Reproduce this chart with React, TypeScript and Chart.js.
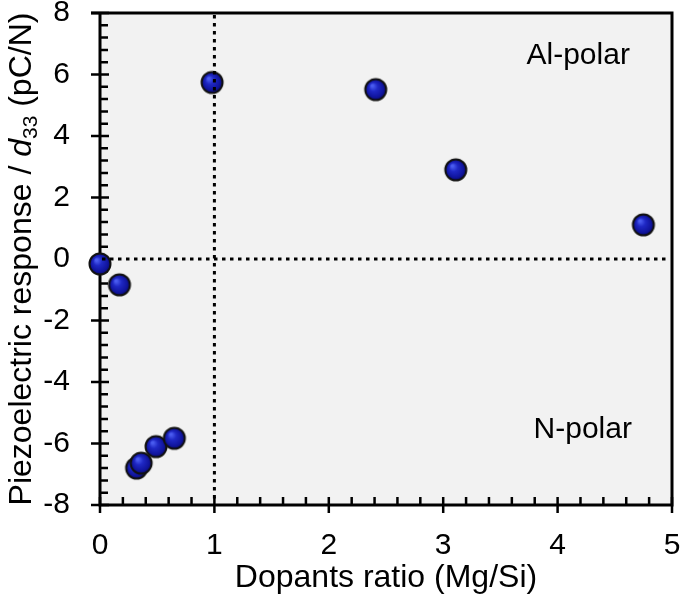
import React, { useEffect, useRef } from "react";
import { Chart, registerables } from "chart.js";

Chart.register(...registerables);

// ---- Data ----
const dopantRatio = [0.0, 0.17, 0.32, 0.36, 0.49, 0.65, 0.98, 2.41, 3.11, 4.75];
const d33Values = [-0.16, -0.84, -6.8, -6.64, -6.1, -5.83, 5.74, 5.51, 2.9, 1.11];

const xTickValues = [0, 1, 2, 3, 4, 5];
const xTickLabels = ["0", "1", "2", "3", "4", "5"];
const yTickValues = [-8, -6, -4, -2, 0, 2, 4, 6, 8];
const yTickLabels = ["-8", "-6", "-4", "-2", "0", "2", "4", "6", "8"];

const refLineX = [1];
const refLineY = [0];

const annotationText = ["Al-polar", "N-polar"];
const annotationX = [4.18, 4.22];
const annotationY = [6.61, -5.56];

const xTitle = "Dopants ratio (Mg/Si)";
const yTitleParts = ["Piezoelectric response / ", "d", "33", " (pC/N)"];

const FONT = "'Liberation Sans', Arial, Helvetica, sans-serif";

function makeMarker(): HTMLCanvasElement {
  const size = 26;
  const c = document.createElement("canvas");
  c.width = size;
  c.height = size;
  const g = c.getContext("2d")!;
  const cx = size / 2;
  const cy = size / 2;
  const r = 10.5;
  const grad = g.createRadialGradient(cx - 3.5, cy - 4, 1, cx, cy, r);
  grad.addColorStop(0, "#4a5cf0");
  grad.addColorStop(0.35, "#1f28c4");
  grad.addColorStop(0.8, "#10149c");
  grad.addColorStop(1, "#080a66");
  g.beginPath();
  g.arc(cx, cy, r, 0, Math.PI * 2);
  g.fillStyle = grad;
  g.fill();
  g.lineWidth = 2;
  g.strokeStyle = "#111111";
  g.stroke();
  return c;
}

const framePlugin = {
  id: "frameAndDecor",
  beforeDraw(chart: any) {
    const { ctx, chartArea: a } = chart;
    ctx.save();
    ctx.fillStyle = "#f2f2f2";
    ctx.fillRect(a.left, a.top, a.right - a.left, a.bottom - a.top);
    ctx.restore();
  },
  beforeDatasetsDraw(chart: any) {
    const { ctx, chartArea: a, scales } = chart;
    const x = scales.x;
    const y = scales.y;
    ctx.save();
    ctx.strokeStyle = "#000";
    ctx.lineWidth = 3;
    ctx.lineCap = "butt";
    // frame
    ctx.beginPath();
    ctx.moveTo(a.left - 9, a.top);
    ctx.lineTo(a.right + 1.5, a.top);
    ctx.moveTo(a.right, a.top);
    ctx.lineTo(a.right, a.bottom);
    ctx.moveTo(a.left, a.top);
    ctx.lineTo(a.left, a.bottom + 1.5);
    ctx.moveTo(a.left - 1.5, a.bottom);
    ctx.lineTo(a.right + 1.5, a.bottom);
    ctx.stroke();

    ctx.lineWidth = 2.5;
    ctx.beginPath();
    // y ticks: major every 2, minor every 0.4
    for (let i = 0; i <= 40; i++) {
      const v = -8 + i * 0.4;
      const py = y.getPixelForValue(v);
      const major = i % 5 === 0;
      if (major) {
        ctx.moveTo(a.left - 9, py);
        ctx.lineTo(a.left + 9, py);
      } else {
        ctx.moveTo(a.left, py);
        ctx.lineTo(a.left + 8, py);
      }
    }
    // x ticks: major every 1, minor every 0.2
    for (let i = 0; i <= 25; i++) {
      const v = i * 0.2;
      const px = x.getPixelForValue(v);
      const major = i % 5 === 0;
      if (major) {
        ctx.moveTo(px, a.bottom + 8);
        ctx.lineTo(px, a.bottom - 8);
      } else {
        ctx.moveTo(px, a.bottom);
        ctx.lineTo(px, a.bottom - 8);
      }
    }
    ctx.stroke();

    // annotations
    ctx.fillStyle = "#000";
    ctx.font = `30px ${FONT}`;
    ctx.textAlign = "center";
    ctx.textBaseline = "middle";
    annotationText.forEach((t, i) => {
      ctx.fillText(t, x.getPixelForValue(annotationX[i]), y.getPixelForValue(annotationY[i]));
    });

    // y title with italic d and subscript 33
    const cx = 20;
    const cy = (a.top + a.bottom) / 2;
    const normal = `32px ${FONT}`;
    const italic = `italic 32px ${FONT}`;
    const sub = `21px ${FONT}`;
    const fonts = [normal, italic, sub, normal];
    const widths = yTitleParts.map((p, i) => {
      ctx.font = fonts[i];
      return ctx.measureText(p).width;
    });
    const total = widths.reduce((s, w) => s + w, 0);
    ctx.translate(cx, cy);
    ctx.rotate(-Math.PI / 2);
    ctx.textAlign = "left";
    ctx.textBaseline = "alphabetic";
    let pos = -total / 2;
    const base = 11;
    yTitleParts.forEach((p, i) => {
      ctx.font = fonts[i];
      ctx.fillText(p, pos, i === 2 ? base + 6 : base);
      pos += widths[i];
    });
    ctx.restore();
  },
  afterDatasetsDraw(chart: any) {
    const { ctx, chartArea: a, scales } = chart;
    ctx.save();
    ctx.strokeStyle = "#000";
    ctx.lineWidth = 3;
    ctx.setLineDash([3.5, 4.5]);
    ctx.beginPath();
    refLineX.forEach((v) => {
      const px = scales.x.getPixelForValue(v);
      ctx.moveTo(px, a.top + 2);
      ctx.lineTo(px, a.bottom - 2);
    });
    refLineY.forEach((v) => {
      const py = scales.y.getPixelForValue(v);
      ctx.moveTo(a.left + 2, py);
      ctx.lineTo(a.right - 2, py);
    });
    ctx.stroke();
    ctx.restore();
  },
};

function zeroPad(s: any) {
  s.paddingTop = 0;
  s.paddingBottom = 0;
  s.paddingLeft = 0;
  s.paddingRight = 0;
}

export default function App() {
  const ref = useRef<HTMLCanvasElement | null>(null);

  useEffect(() => {
    const canvas = ref.current;
    if (!canvas) return;
    const marker = makeMarker();
    const chart = new Chart(canvas, {
      type: "scatter",
      data: {
        datasets: [
          {
            data: dopantRatio.map((v, i) => ({ x: v, y: d33Values[i] })),
            pointStyle: marker as any,
            pointRadius: 12,
            clip: false as any,
          },
        ],
      },
      options: {
        responsive: false,
        animation: false,
        devicePixelRatio: 1,
        layout: { padding: { top: 13, right: 10, left: 0, bottom: 0 } },
        plugins: { legend: { display: false }, tooltip: { enabled: false } },
        scales: {
          x: {
            type: "linear",
            min: 0,
            max: 5,
            afterBuildTicks: (s: any) => {
              s.ticks = xTickValues.map((v) => ({ value: v }));
            },
            ticks: {
              color: "#000",
              font: { family: FONT, size: 30 },
              padding: 23,
              maxRotation: 0,
              callback: (v: any) => xTickLabels[xTickValues.indexOf(Number(v))] ?? "",
            },
            grid: { display: false, drawTicks: false },
            border: { display: false },
            title: {
              display: true,
              text: xTitle,
              color: "#000",
              font: { family: FONT, size: 32 },
              padding: { top: 0, bottom: 4 },
            },
            afterFit: (s: any) => {
              s.height = 96;
              zeroPad(s);
            },
          },
          y: {
            type: "linear",
            min: -8,
            max: 8,
            afterBuildTicks: (s: any) => {
              s.ticks = yTickValues.map((v) => ({ value: v }));
            },
            ticks: {
              color: "#000",
              font: { family: FONT, size: 30 },
              padding: 30,
              callback: (v: any) => yTickLabels[yTickValues.indexOf(Number(v))] ?? "",
            },
            grid: { display: false, drawTicks: false },
            border: { display: false },
            afterFit: (s: any) => {
              s.width = 100;
              zeroPad(s);
            },
          },
        },
      },
      plugins: [framePlugin],
    });
    return () => chart.destroy();
  }, []);

  return (
    <div style={{ position: "absolute", left: 0, top: 0, width: 685, height: 601, background: "#fff" }}>
      <canvas ref={ref} width={685} height={601} style={{ display: "block" }} />
    </div>
  );
}
